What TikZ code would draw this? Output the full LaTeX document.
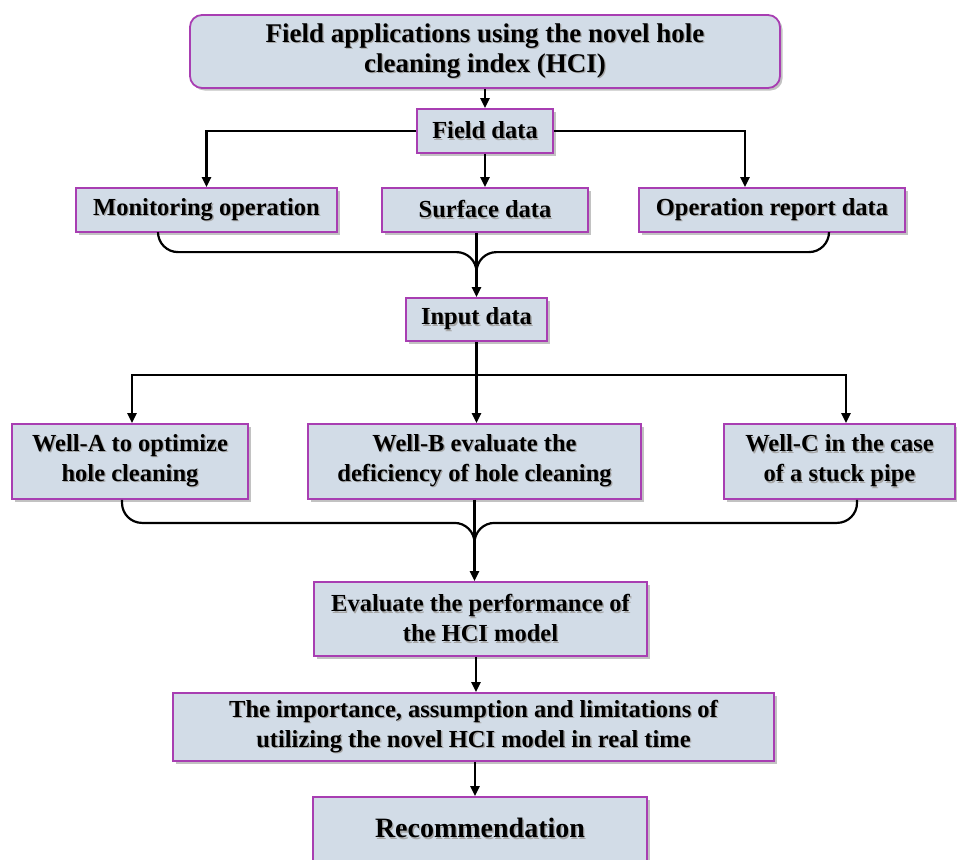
\documentclass[tikz,border=0pt]{standalone}
\usepackage{fontspec}
\setmainfont{Liberation Serif}
\usetikzlibrary{calc,arrows.meta,shadows}

\definecolor{boxfill}{RGB}{210,220,231}
\definecolor{boxedge}{RGB}{168,62,178}

% bold text with a soft grey shadow behind it
\newcommand\tsh[1]{\leavevmode\rlap{\kern1.3pt\raisebox{-1.3pt}{\color{black!35}#1}}#1}

\begin{document}
\begin{tikzpicture}[x=1pt,y=-1pt,
  box/.style={draw=boxedge, line width=1.8pt, fill=boxfill, inner sep=0pt, align=center,
    drop shadow={shadow xshift=2.5pt, shadow yshift=-2.5pt, fill=black!60, opacity=.4}},
  txt/.style={font=\fontsize{24.5}{30}\selectfont\bfseries},
  conn/.style={line width=2.2pt, black},
  arr/.style={conn, -{Triangle[length=10pt,width=9pt]}}]

\useasboundingbox (0,0) rectangle (957,859);

% boxes
\node[box, rounded corners=12pt, minimum width=590pt, minimum height=73pt,
      font=\fontsize{27}{30}\selectfont\bfseries] (top) at (485,51.5)
      {\tsh{Field applications using the novel hole}\\\tsh{cleaning index (HCI)}};
\node[box, txt, minimum width=136pt, minimum height=44pt] (field) at (485,131) {\tsh{Field data}};

\node[box, txt, minimum width=261pt, minimum height=44pt] (mon)  at (206.5,210) {\tsh{Monitoring operation}};
\node[box, txt, minimum width=206pt, minimum height=44pt] (surf) at (485,210)   {\tsh{Surface data}};
\node[box, txt, minimum width=266pt, minimum height=44pt] (oper) at (772,210)   {\tsh{Operation report data}};

\node[box, txt, minimum width=141pt, minimum height=43pt] (input) at (476.5,319.5) {\tsh{Input data}};

\node[box, txt, minimum width=236pt, minimum height=75pt] (wellA) at (130,461.5)
      {\tsh{Well-A to optimize}\\\tsh{hole cleaning}};
\node[box, txt, minimum width=333pt, minimum height=75pt] (wellB) at (474.5,461.5)
      {\tsh{Well-B evaluate the}\\\tsh{deficiency of hole cleaning}};
\node[box, txt, minimum width=231pt, minimum height=75pt] (wellC) at (839.5,461.5)
      {\tsh{Well-C in the case}\\\tsh{of a stuck pipe}};

\node[box, txt, minimum width=333pt, minimum height=74pt] (eval) at (480.5,619)
      {\tsh{Evaluate the performance of}\\\tsh{the HCI model}};
\node[box, txt, minimum width=601pt, minimum height=68pt] (imp) at (473.5,727)
      {\tsh{The importance, assumption and limitations of}\\\tsh{utilizing the novel HCI model in real time}};
\node[box, minimum width=334pt, minimum height=64pt,
      font=\fontsize{28}{30}\selectfont\bfseries] (rec) at (480,829) {\tsh{Recommendation}};

% junction points
\coordinate (j1) at ($(input.north)+(0,-45)$);
\coordinate (j0) at ($(input.south)+(0,33)$);
\coordinate (j2) at ($(wellB.south)+(0,23)$);

% connectors
\draw[arr] (top.south) -- (field.north);
\draw[arr] (field.west) -| (mon.north);
\draw[arr] (field.east) -| ($(oper.north)+(-27,0)$);
\draw[arr] (field.south) -- (surf.north);

\draw[arr] (input.north |- surf.south) -- (input.north);
\draw[conn, rounded corners=20pt] ($(mon.south)+(-48.5,0)$) |- (j1) -- ++(0,30);
\draw[conn, rounded corners=20pt] ($(oper.south)+(57,0)$) |- (j1) -- ++(0,30);

\draw[arr] (input.south) -- (input.south |- wellB.north);
\draw[arr] (j0) -| ($(wellA.north)+(2,0)$);
\draw[arr] (j0) -| ($(wellC.north)+(6.5,0)$);

\draw[arr] (wellB.south) -- (wellB.south |- eval.north);
\draw[conn, rounded corners=20pt] ($(wellA.south)+(-8,0)$) |- (j2) -- ++(0,30);
\draw[conn, rounded corners=20pt] ($(wellC.south)+(17.5,0)$) |- (j2) -- ++(0,30);

\draw[arr] ([xshift=-4.5pt]eval.south) -- ([xshift=-4.5pt]eval.south |- imp.north);
\draw[arr] ([xshift=1.5pt]imp.south) -- ([xshift=1.5pt]imp.south |- rec.north);

\end{tikzpicture}
\end{document}
